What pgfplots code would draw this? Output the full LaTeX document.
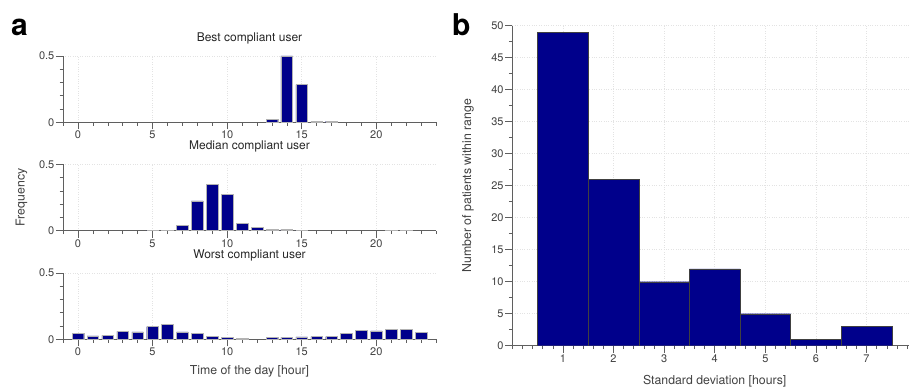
\documentclass[border=0pt]{standalone}
\usepackage{fontspec}
\setmainfont{TeX Gyre Heros}
\usepackage{pgfplots}
\pgfplotsset{compat=1.18}
\definecolor{barblue}{RGB}{0,0,139}
\definecolor{axgray}{RGB}{95,95,95}
\definecolor{txtgray}{RGB}{65,65,65}
\pgfplotsset{
  hist/.style={
    scale only axis, enlargelimits=false,
    axis x line*=bottom, axis y line*=left,
    axis line style={axgray,-, line width=0.6pt},
    tick align=outside, major tick length=7pt, minor tick length=3.5pt,
    every tick/.style={axgray, line width=0.5pt},
    tick label style={font=\fontsize{11}{12}\selectfont, text=txtgray, inner sep=1.5pt},
    /pgf/number format/assume math mode=true,
    label style={font=\fontsize{12.3}{14}\selectfont, text=txtgray},
    title style={font=\fontsize{12}{14}\selectfont, text=black!85, at={(axis description cs:0.5,1)}, anchor=base, yshift=8.7pt, inner sep=0pt},
    grid=major, major grid style={dotted, gray!22, line width=0.45pt},
  },
  pa/.style={hist, width=373pt, height=66.5pt, xmin=-1, xmax=24, ymin=0, ymax=0.5,
    xtick={0,5,10,15,20}, minor xtick={-1,0,...,24}, ytick={0,0.5}, minor ytick={0.1,0.2,0.3,0.4},
    ybar, bar width=0.78},
}
\begin{document}
\begin{tikzpicture}
\useasboundingbox (0,0) rectangle (909pt,388pt);
% panel a, top
\begin{axis}[pa, at={(63pt,265.7pt)}, anchor=south west, title={Best compliant user}]
\addplot[fill=barblue, draw=gray!60, line width=0.4pt] coordinates {
(13,0.02) (14,0.5) (15,0.284) (16,0.005) (17,0.008)};
\end{axis}
% panel a, middle
\begin{axis}[pa, at={(63pt,157.3pt)}, anchor=south west, title={Median compliant user},
  ylabel={Frequency}, ylabel style={at={(axis description cs:-0.111,0.5)}, anchor=center, rotate=0}]
\addplot[fill=barblue, draw=gray!60, line width=0.4pt] coordinates {
(5,0.003) (6,0.003) (7,0.04) (8,0.225) (9,0.347) (10,0.275) (11,0.057) (12,0.027) (13,0.008) (14,0.01) (15,0.005) (21,0.005) (22,0.005)};
\end{axis}
% panel a, bottom
\begin{axis}[pa, at={(63pt,48.7pt)}, anchor=south west, title={Worst compliant user},
  xlabel={Time of the day [hour]}, xlabel style={at={(axis description cs:0.5,0)}, anchor=center, yshift=-31.7pt}]
\addplot[fill=barblue, draw=gray!60, line width=0.4pt] coordinates {
(0,0.043) (1,0.025) (2,0.03) (3,0.06) (4,0.055) (5,0.095) (6,0.11) (7,0.055) (8,0.043) (9,0.02) (10,0.015) (11,0.005)
(13,0.015) (14,0.015) (15,0.018) (16,0.02) (17,0.02) (18,0.045) (19,0.068) (20,0.063) (21,0.075) (22,0.075) (23,0.05)};
\end{axis}
% panel b
\begin{axis}[hist, at={(512.3pt,42.3pt)}, anchor=south west, width=404.8pt, height=320pt,
  xmin=0, xmax=8, ymin=0, ymax=50,
  xtick={1,...,7}, minor xtick={0,0.2,...,8}, ytick={0,5,...,50}, minor ytick={2.5,7.5,...,47.5},
  ybar, bar width=1,
  xlabel={Standard deviation [hours]}, xlabel style={at={(axis description cs:0.5,0)}, anchor=center, yshift=-36pt},
  ylabel={Number of patients within range}, ylabel style={at={(axis description cs:-0.1095,0.5)}, anchor=center}]
\addplot[fill=barblue, draw=black!75, line width=0.4pt] coordinates {
(1,49) (2,26) (3,10) (4,12) (5,5) (6,1) (7,3)};
\end{axis}
\node[anchor=base west, font=\bfseries\fontsize{30}{30}\selectfont, inner sep=0pt] at (11pt,352pt) {a};
\node[anchor=base west, font=\bfseries\fontsize{30}{30}\selectfont, inner sep=0pt] at (452pt,352pt) {b};
\end{tikzpicture}
\end{document}
